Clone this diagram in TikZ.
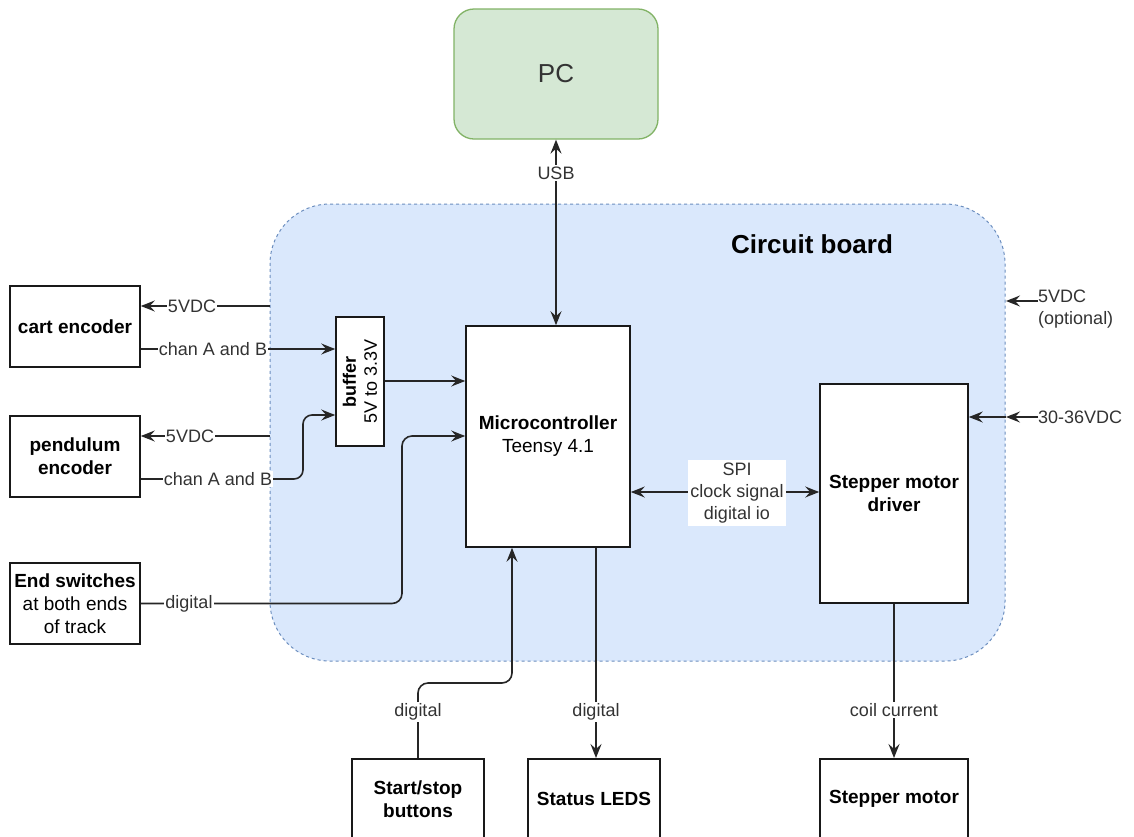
\documentclass[tikz,border=0pt]{standalone}
\usepackage{fontspec}
\setmainfont{Liberation Sans}
\usetikzlibrary{arrows.meta}
\definecolor{pcfill}{HTML}{D5E8D4}
\definecolor{pcline}{HTML}{82B366}
\definecolor{bfill}{HTML}{DAE8FC}
\definecolor{bline}{HTML}{6C8EBF}
\begin{document}
\begin{tikzpicture}[x=1pt,y=-1pt,
  box/.style={draw=black!90, line width=1.6pt, fill=white, align=center, inner sep=0pt,
    font=\fontsize{19}{23}\selectfont},
  lbl/.style={fill=white, inner sep=1.2pt, align=center, text=black!80,
    font=\fontsize{18}{22}\selectfont},
  side/.style={inner sep=0pt, align=left, text=black!80, font=\fontsize{18}{22}\selectfont},
  conn/.style={line width=1.6pt, draw=black!85},
  tip/.style={-{Stealth[length=14pt,width=11pt,inset=5pt]}},
  tips/.style={{Stealth[length=14pt,width=11pt,inset=5pt]}-{Stealth[length=14pt,width=11pt,inset=5pt]}}]
\useasboundingbox (0,0) rectangle (1134,836);
\clip (0,0) rectangle (1134,836);
\fill[white] (0,0) rectangle (1134,836);

% circuit board
\node[draw=bline, fill=bfill, line width=1pt, dash pattern=on 3pt off 3pt,
  rounded corners=60pt, minimum width=735, minimum height=457, inner sep=0pt]
  (board) at (637.5,432.5) {};
\node[font=\bfseries\fontsize{26}{30}\selectfont] (boardlbl) at (812,244) {Circuit board};

% PC
\node[draw=pcline, fill=pcfill, line width=1.3pt, rounded corners=20pt,
  minimum width=204, minimum height=130, inner sep=0pt, text=black!80,
  font=\fontsize{26}{30}\selectfont] (pc) at (556,74) {PC};

% boxes
\node[box, minimum width=164, minimum height=221] (mcu) at (548,436.5)
  {\textbf{Microcontroller}\\Teensy 4.1};
\node[box, minimum width=48, minimum height=129] (buf) at (360,381.5) {};
\node[rotate=90, align=center, inner sep=0pt, font=\fontsize{18}{21}\selectfont]
  (buflbl) at (buf.center) {\textbf{buffer}\\5V to 3.3V};
\node[box, minimum width=130, minimum height=81, font=\bfseries\fontsize{19}{23}\selectfont]
  (cart) at (75,326.5) {cart encoder};
\node[box, minimum width=130, minimum height=81, font=\bfseries\fontsize{19}{23}\selectfont]
  (pend) at (75,456.5) {pendulum\\encoder};
\node[box, minimum width=130, minimum height=81] (ends) at (75,603.5)
  {\textbf{End switches}\\at both ends\\of track};
\node[box, minimum width=148, minimum height=219, font=\bfseries\fontsize{19}{23}\selectfont]
  (drv) at (894,493.5) {Stepper motor\\driver};
\node[box, minimum width=132, minimum height=81, anchor=north,
  font=\bfseries\fontsize{19}{23}\selectfont] (ss) at (418,758) {Start/stop\\buttons};
\node[box, minimum width=132, minimum height=81, anchor=north,
  font=\bfseries\fontsize{19}{23}\selectfont] (leds) at (594,758) {Status LEDS};
\node[box, minimum width=148, minimum height=81, anchor=north,
  font=\bfseries\fontsize{19}{23}\selectfont] (motor) at (894,758) {Stepper motor};

% USB
\draw[conn, tips] (pc.south) -- (mcu.north -| pc.south);
\node[lbl] (usb) at (556,173) {USB};

% cart encoder
\coordinate (c5) at (270,306);
\draw[conn, tip] (c5) -- (cart.east |- c5);
\node[lbl] (c5l) at (192,306) {5VDC};
\draw[conn, tip] (cart.east |- 0,349) -- (buf.west |- 0,349);
\node[lbl] (cchl) at (213,349) {chan A and B};

% pendulum encoder
\coordinate (p5) at (270,436);
\draw[conn, tip] (p5) -- (pend.east |- p5);
\node[lbl] (p5l) at (190,436) {5VDC};
\draw[conn, tip, rounded corners=9pt] (pend.east |- 0,479) -| (303,415) -- (buf.west |- 0,415);
\node[lbl] (pchl) at (218,479) {chan A and B};

% buffer to mcu
\draw[conn, tip] (buf.east |- 0,381) -- (mcu.west |- 0,381);

% end switches
\draw[conn, tip, rounded corners=10pt] (ends.east) -| (402,436) -- (mcu.west |- 0,436);
\node[lbl] (edl) at (189,604) {digital};

% start/stop
\draw[conn, tip, rounded corners=10pt] (ss.north) |- (512,683) -- (mcu.south -| 512,0);
\node[lbl] (ssl) at (418,712) {digital};

% status leds
\draw[conn, tip] (mcu.south -| 596,0) -- (leds.north -| 596,0);
\node[lbl] (ledl) at (596,712) {digital};

% SPI
\draw[conn, tips] (mcu.east |- 0,492) -- (drv.west |- 0,492);
\node[lbl, inner xsep=2pt, inner ysep=3pt] (spil) at (737,493) {SPI\\clock signal\\digital io};

% coil current
\draw[conn, tip] (drv.south) -- (motor.north);
\node[lbl] (coil) at (894,710) {coil current};

% supplies
\node[side, anchor=west] (v36) at (1038,417) {30-36VDC};
\coordinate (b36) at (1006,417);
\draw[conn, tip] (v36.west) -- (b36);
\draw[conn, tip] (b36) -- (drv.east |- b36);
\node[side, anchor=north west] (v5) at (1038,290) {5VDC\\(optional)};
\coordinate (b5) at (1006,301);
\draw[conn, tip] (v5.west |- b5) -- (b5);
\end{tikzpicture}
\end{document}
